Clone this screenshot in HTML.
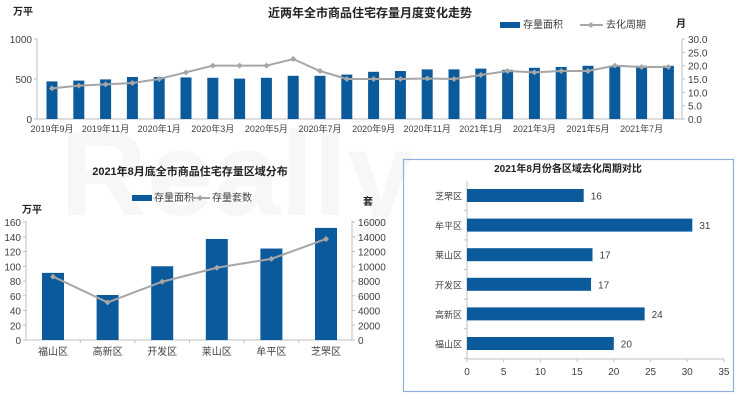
<!DOCTYPE html>
<html><head><meta charset="utf-8"><style>
body{margin:0;background:#fff;}
svg{display:block;font-family:"Liberation Sans","Noto Sans CJK SC",sans-serif;}
</style></head><body>
<svg id="s" width="740" height="408" xmlns="http://www.w3.org/2000/svg"></svg>
<script>
const s=document.getElementById('s');let h='';
const B='#0a5a9c',G='#a6a6a6',T='#404040';
function t(x,y,str,o={}){h+=`<text x="${x}" y="${y}" font-size="${o.fs||10}" fill="${o.c||T}" text-anchor="${o.a||'middle'}" font-weight="${o.w||'normal'}">${str}</text>`;}
function l(x1,y1,x2,y2,c='#bfbfbf',w=1){h+=`<line x1="${x1}" y1="${y1}" x2="${x2}" y2="${y2}" stroke="${c}" stroke-width="${w}"/>`;}
function r(x,y,w,hh,c=B){h+=`<rect x="${x}" y="${y}" width="${w}" height="${hh}" fill="${c}"/>`;}
function mk(x,y){h+=`<path d="M${x-3} ${y}L${x} ${y-3}L${x+3} ${y}L${x} ${y+3}Z" fill="${G}"/>`;}
h+=`<text x="60" y="215" font-size="120" fill="#f7f7f7" font-weight="bold">Really</text>`;
t(370,17,'近两年全市商品住宅存量月度变化走势',{fs:12,w:'bold',c:'#222'});
t(13,15,'万平',{fs:10,w:'bold',a:'start',c:'#222'});
t(676,27,'月',{fs:10,w:'bold',a:'start',c:'#222'});
r(500,22,20,6);t(523,28,'存量面积',{a:'start'});
l(580,25,603,25,G,2);mk(591,25);t(606,28,'去化周期',{a:'start'});
l(37,39,37,119);l(37,119,682,119);l(682,39,682,119);
[[0,119],[500,79],[1000,39]].forEach(([v,y])=>{t(32,y+4,v,{a:'end'});l(34,y,37,y)});
for(let i=0;i<=6;i++){let y=119-i*80/6;t(688,y+4,(i*5).toFixed(1),{a:'start'});l(682,y,685,y);}
const bv=[470,480,495,525,525,520,515,505,515,540,540,555,590,600,620,620,630,615,640,650,665,665,665,665];
const lv=[11.5,12.5,13,13.5,15,17.5,20,20,20,22.5,18,15,15,15,15.2,15,16.5,18,17.5,18,18,20,19.5,19.5];
let pts=[];
bv.forEach((v,i)=>{let cx=52+i*26.8,hh=v*0.08;r(cx-5.5,119-hh,11,hh);pts.push([cx,119-lv[i]*80/30]);
 if(i%2==0)t(cx,132,(i<4?'2019年'+(9+i)+'月':(i<16?'2020年'+(i-3)+'月':'2021年'+(i-15)+'月')),{fs:9});});
h+=`<polyline points="${pts.map(p=>p.join(',')).join(' ')}" fill="none" stroke="${G}" stroke-width="2"/>`;pts.forEach(p=>mk(p[0],p[1]));
t(190,175,'2021年8月底全市商品住宅存量区域分布',{fs:11,w:'bold',c:'#222'});
r(132,195,20,6);t(154,201,'存量面积',{a:'start'});l(192,198,210,198,G,2);mk(200,198);t(212,201,'存量套数',{a:'start'});
t(32,213,'万平',{fs:10,w:'bold',c:'#222'});t(368,205,'套',{fs:10,w:'bold',c:'#222'});
l(26,221,26,340);l(26,340,352,340);l(352,221,352,340);
for(let i=0;i<=8;i++){let y=340-i*118/8;t(21,y+4,i*20,{a:'end'});l(23,y,26,y);t(358,y+4,i*2000,{a:'start'});l(352,y,355,y);}
const names=['福山区','高新区','开发区','莱山区','牟平区','芝罘区'],v2=[91,61,100,137,124,152],l2=[8600,5100,7900,9800,11000,13700];pts=[];
names.forEach((n,i)=>{let cx=53+i*54.6;let hh=v2[i]*118/160;r(cx-11,340-hh,22,hh);pts.push([cx,340-l2[i]*118/16000]);t(cx,355,n,{fs:10});if(i)l(cx-27.3,340,cx-27.3,343);});
h+=`<polyline points="${pts.map(p=>p.join(',')).join(' ')}" fill="none" stroke="${G}" stroke-width="2"/>`;pts.forEach(p=>mk(p[0],p[1]));
h+=`<rect x="403.5" y="159.5" width="330" height="232" fill="none" stroke="#8eaedb" stroke-width="1.2"/>`;
t(568,172,'2021年8月份各区域去化周期对比',{fs:10,w:'bold',c:'#222'});
l(467,181,467,359);l(467,359,724,359);
for(let i=0;i<=7;i++){let x=467+i*36.7;t(x,375,i*5,{fs:10});l(x,359,x,362);}
const n3=['芝罘区','牟平区','莱山区','开发区','高新区','福山区'],v3=[15.9,30.7,17.1,16.9,24.2,20],lab=[16,31,17,17,24,20];
n3.forEach((n,i)=>{let cy=195.5+i*29.6;r(467,cy-6.5,v3[i]*7.34,13);t(462,cy+4,n,{fs:9,a:'end'});t(467+v3[i]*7.34+7,cy+4,lab[i],{fs:10,a:'start'});l(464,cy+14.8,467,cy+14.8);});
s.innerHTML=h;
</script>
</body></html>
